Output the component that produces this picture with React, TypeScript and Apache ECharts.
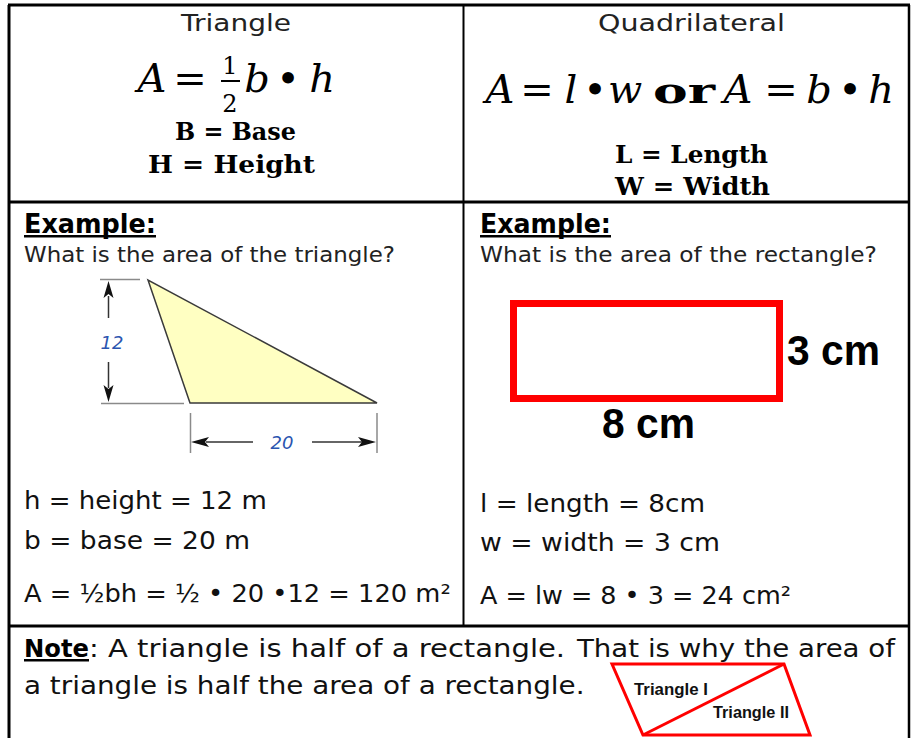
import React, { useEffect, useRef } from "react";
import * as echarts from "echarts";

// ---- content (text values) ----
const headerTitles = ["Triangle", "Quadrilateral"];
const triangleFormula = ["A", "=", "1", "2", "b", "•", "h"];
const quadFormula = ["A", "=", "l", "•", "w", "or", "A", "=", "b", "•", "h"];
const triangleLegend = ["B = Base", "H = Height"];
const quadLegend = ["L = Length", "W = Width"];
const exampleTitle = "Example:";
const exampleQuestions = ["What is the area of the triangle?", "What is the area of the rectangle?"];
const triangleDims = ["12", "20"];
const rectDims = ["3 cm", "8 cm"];
const triangleWork = ["h = height = 12 m", "b = base = 20 m", "A = ½bh = ½ • 20 •12 = 120 m²"];
const rectWork = ["l = length = 8cm", "w = width = 3 cm", "A = lw = 8 • 3 = 24 cm²"];
const noteLines = ["Note", ": A triangle is half of a rectangle.", "That is why the area of", "a triangle is half the area of a rectangle."];
const noteShapeLabels = ["Triangle I", "Triangle II"];

const SANS = "DejaVu Sans";
const SERIF = "DejaVu Serif";
const NARROW = "Liberation Sans";
const PIX = "Liberation Sans";

type TO = { family?: string; weight?: string; style?: string; fill?: string };

let measureCtx: CanvasRenderingContext2D | null = null;
function measure(text: string, size: number, o: TO) {
  if (!measureCtx) measureCtx = document.createElement("canvas").getContext("2d");
  const ctx = measureCtx!;
  ctx.font = `${o.style || "normal"} ${o.weight || "normal"} ${size}px "${o.family || SANS}"`;
  return ctx.measureText(text).width;
}

function styleOf(text: string, size: number, o: TO, align: string) {
  return {
    text,
    fontSize: size,
    fontFamily: o.family || SANS,
    fontWeight: o.weight || "normal",
    fontStyle: o.style || "normal",
    fill: o.fill || "#111",
    textAlign: align,
    align: align,
    textVerticalAlign: "middle",
    verticalAlign: "middle",
  };
}

// text fitted between x0 and x1, on a baseline
function fit(text: string, x0: number, x1: number, baseline: number, size: number, o: TO = {}) {
  const w = measure(text, size, o);
  const sx = w > 0 ? (x1 - x0) / w : 1;
  return {
    type: "text",
    x: x0,
    y: baseline - 0.346 * size,
    scaleX: sx,
    style: styleOf(text, size, o, "left"),
  };
}

// text centered on cx, on a baseline
function ctr(text: string, cx: number, baseline: number, size: number, o: TO = {}) {
  return {
    type: "text",
    x: cx,
    y: baseline - 0.346 * size,
    style: styleOf(text, size, o, "center"),
  };
}

function line(x1: number, y1: number, x2: number, y2: number, stroke: string, lineWidth: number) {
  return { type: "line", shape: { x1, y1, x2, y2 }, style: { stroke, lineWidth } };
}

function poly(points: number[][], fill: string, stroke?: string, lineWidth?: number) {
  return { type: "polygon", shape: { points }, style: { fill, stroke: stroke || "none", lineWidth: lineWidth || 0 } };
}

function buildElements() {
  const els: any[] = [];
  const BLACK = "#000";
  // ---- table borders ----
  els.push(line(9, 5, 9, 738, BLACK, 3));
  els.push(line(909, 5, 909, 738, BLACK, 2.5));
  els.push(line(8, 5, 910, 5, BLACK, 3));
  els.push(line(463.5, 5, 463.5, 626, BLACK, 2));
  els.push(line(8, 202, 910, 202, BLACK, 3));
  els.push(line(8, 626, 910, 626, BLACK, 3));

  // ---- headers ----
  els.push(fit(headerTitles[0], 181, 291, 31, 23, { fill: "#222" }));
  els.push(fit(headerTitles[1], 598, 785, 31, 23, { fill: "#222" }));

  // triangle formula
  const fs = 40;
  const it: TO = { family: SERIF, style: "italic", fill: BLACK };
  const up: TO = { family: SERIF, fill: BLACK };
  els.push(ctr(triangleFormula[0], 152, 92, fs, it));
  els.push(ctr(triangleFormula[1], 190, 92, fs, up));
  els.push(ctr(triangleFormula[2], 230, 74, 24, up));
  els.push({ type: "rect", shape: { x: 221, y: 80, width: 19, height: 2 }, style: { fill: BLACK } });
  els.push(ctr(triangleFormula[3], 230, 112, 24, up));
  els.push(ctr(triangleFormula[4], 257, 92, fs, it));
  els.push(ctr(triangleFormula[5], 288, 92, fs, up));
  els.push(ctr(triangleFormula[6], 322, 92, fs, it));

  // quad formula
  const qb = 103;
  els.push(ctr(quadFormula[0], 500, qb, fs, it));
  els.push(ctr(quadFormula[1], 537, qb, fs, up));
  els.push(ctr(quadFormula[2], 571, qb, fs, it));
  els.push(ctr(quadFormula[3], 595, qb, fs, up));
  els.push(ctr(quadFormula[4], 625, qb, fs, it));
  els.push(fit(quadFormula[5], 653, 715, qb, 36, { family: SERIF, weight: "bold", fill: BLACK }));
  els.push(ctr(quadFormula[6], 738, qb, fs, it));
  els.push(ctr(quadFormula[7], 781, qb, fs, up));
  els.push(ctr(quadFormula[8], 819, qb, fs, it));
  els.push(ctr(quadFormula[9], 850, qb, fs, up));
  els.push(ctr(quadFormula[10], 881, qb, fs, it));

  // legends
  const bold: TO = { family: SERIF, weight: "bold", fill: BLACK };
  els.push(fit(triangleLegend[0], 175, 296, 140, 24, bold));
  els.push(fit(triangleLegend[1], 148, 315, 173, 24, bold));
  els.push(fit(quadLegend[0], 615, 768, 163, 24, bold));
  els.push(fit(quadLegend[1], 615, 770, 195, 24, bold));

  // ---- example titles ----
  const exo: TO = { weight: "bold", fill: BLACK };
  els.push(fit(exampleTitle, 24, 156, 233, 26, exo));
  els.push({ type: "rect", shape: { x: 24, y: 235, width: 132, height: 2.5 }, style: { fill: BLACK } });
  els.push(fit(exampleTitle, 480, 611, 233, 26, exo));
  els.push({ type: "rect", shape: { x: 480, y: 235, width: 131, height: 2.5 }, style: { fill: BLACK } });
  els.push(fit(exampleQuestions[0], 24, 395, 262, 21, { fill: "#222" }));
  els.push(fit(exampleQuestions[1], 480, 877, 262, 21, { fill: "#222" }));

  // ---- triangle diagram ----
  const GRAY = "#8a8a8a";
  const DARK = "#333";
  els.push(line(100, 279.5, 140, 279.5, GRAY, 1.5));
  els.push(line(101, 403.5, 184, 403.5, GRAY, 1.5));
  els.push(poly([[148, 280], [190, 403], [377, 403]], "#ffffc2", "#3a3a3a", 1.5));
  // vertical dimension arrow
  els.push(line(108.5, 296, 108.5, 318, DARK, 1.5));
  els.push(poly([[108.5, 281], [103.5, 298], [108.5, 294], [113.5, 298]], "#111"));
  els.push(line(108.5, 362, 108.5, 388, DARK, 1.5));
  els.push(poly([[108.5, 402], [103.5, 385], [108.5, 389], [113.5, 385]], "#111"));
  els.push(ctr(triangleDims[0], 112, 349, 18, { style: "italic", fill: "#2b55b0" }));
  // horizontal dimension
  els.push(line(190.5, 413, 190.5, 453, GRAY, 1.5));
  els.push(line(377, 413, 377, 453, GRAY, 1.5));
  els.push(line(206, 442, 253, 442, DARK, 1.5));
  els.push(poly([[191, 442], [209, 437], [205, 442], [209, 447]], "#111"));
  els.push(line(312, 442, 362, 442, DARK, 1.5));
  els.push(poly([[376, 442], [358, 437], [362, 442], [358, 447]], "#111"));
  els.push(ctr(triangleDims[1], 282, 449, 18, { style: "italic", fill: "#2b55b0" }));

  // ---- rectangle diagram ----
  els.push({
    type: "rect",
    shape: { x: 513.5, y: 303.5, width: 266, height: 95 },
    style: { fill: "none", stroke: "#ff0000", lineWidth: 7 },
  });
  const pix: TO = { family: PIX, weight: "bold", fill: BLACK };
  els.push(fit(rectDims[0], 787, 880, 365, 42, pix));
  els.push(fit(rectDims[1], 602, 695, 438, 42, pix));

  // ---- work lines ----
  const wo: TO = { fill: "#111" };
  els.push(fit(triangleWork[0], 24, 267, 509, 25, wo));
  els.push(fit(triangleWork[1], 24, 250, 549, 25, wo));
  els.push(fit(triangleWork[2], 24, 451, 602, 25, wo));
  els.push(fit(rectWork[0], 480, 705, 512, 25, wo));
  els.push(fit(rectWork[1], 480, 720, 551, 25, wo));
  els.push(fit(rectWork[2], 480, 791, 604, 25, wo));

  // ---- note ----
  els.push(fit(noteLines[0], 24, 89, 657, 25, { weight: "bold", fill: BLACK }));
  els.push({ type: "rect", shape: { x: 24, y: 659, width: 65, height: 2.5 }, style: { fill: BLACK } });
  els.push(fit(noteLines[1], 89, 565, 657, 25, wo));
  els.push(fit(noteLines[2], 577, 895, 657, 25, wo));
  els.push(fit(noteLines[3], 24, 585, 694, 25, wo));

  // parallelogram
  els.push(poly([[612, 664], [784, 664], [810, 735], [643, 735]], "none", "#ff0000", 3));
  els.push(line(643, 735, 784, 664, "#ff0000", 3));
  const nb: TO = { family: NARROW, weight: "bold", fill: "#111" };
  els.push(fit(noteShapeLabels[0], 634, 708, 695, 17, nb));
  els.push(fit(noteShapeLabels[1], 713, 789, 718, 17, nb));

  return els;
}

export default function App() {
  const ref = useRef<HTMLDivElement>(null);
  useEffect(() => {
    if (!ref.current) return;
    const chart = echarts.init(ref.current, undefined, { renderer: "svg" });
    chart.setOption({
      animation: false,
      backgroundColor: "#ffffff",
      graphic: { elements: buildElements() },
    });
    return () => chart.dispose();
  }, []);
  return (
    <div
      ref={ref}
      style={{ position: "fixed", left: 0, top: 0, width: 911, height: 738, background: "#fff" }}
    />
  );
}
